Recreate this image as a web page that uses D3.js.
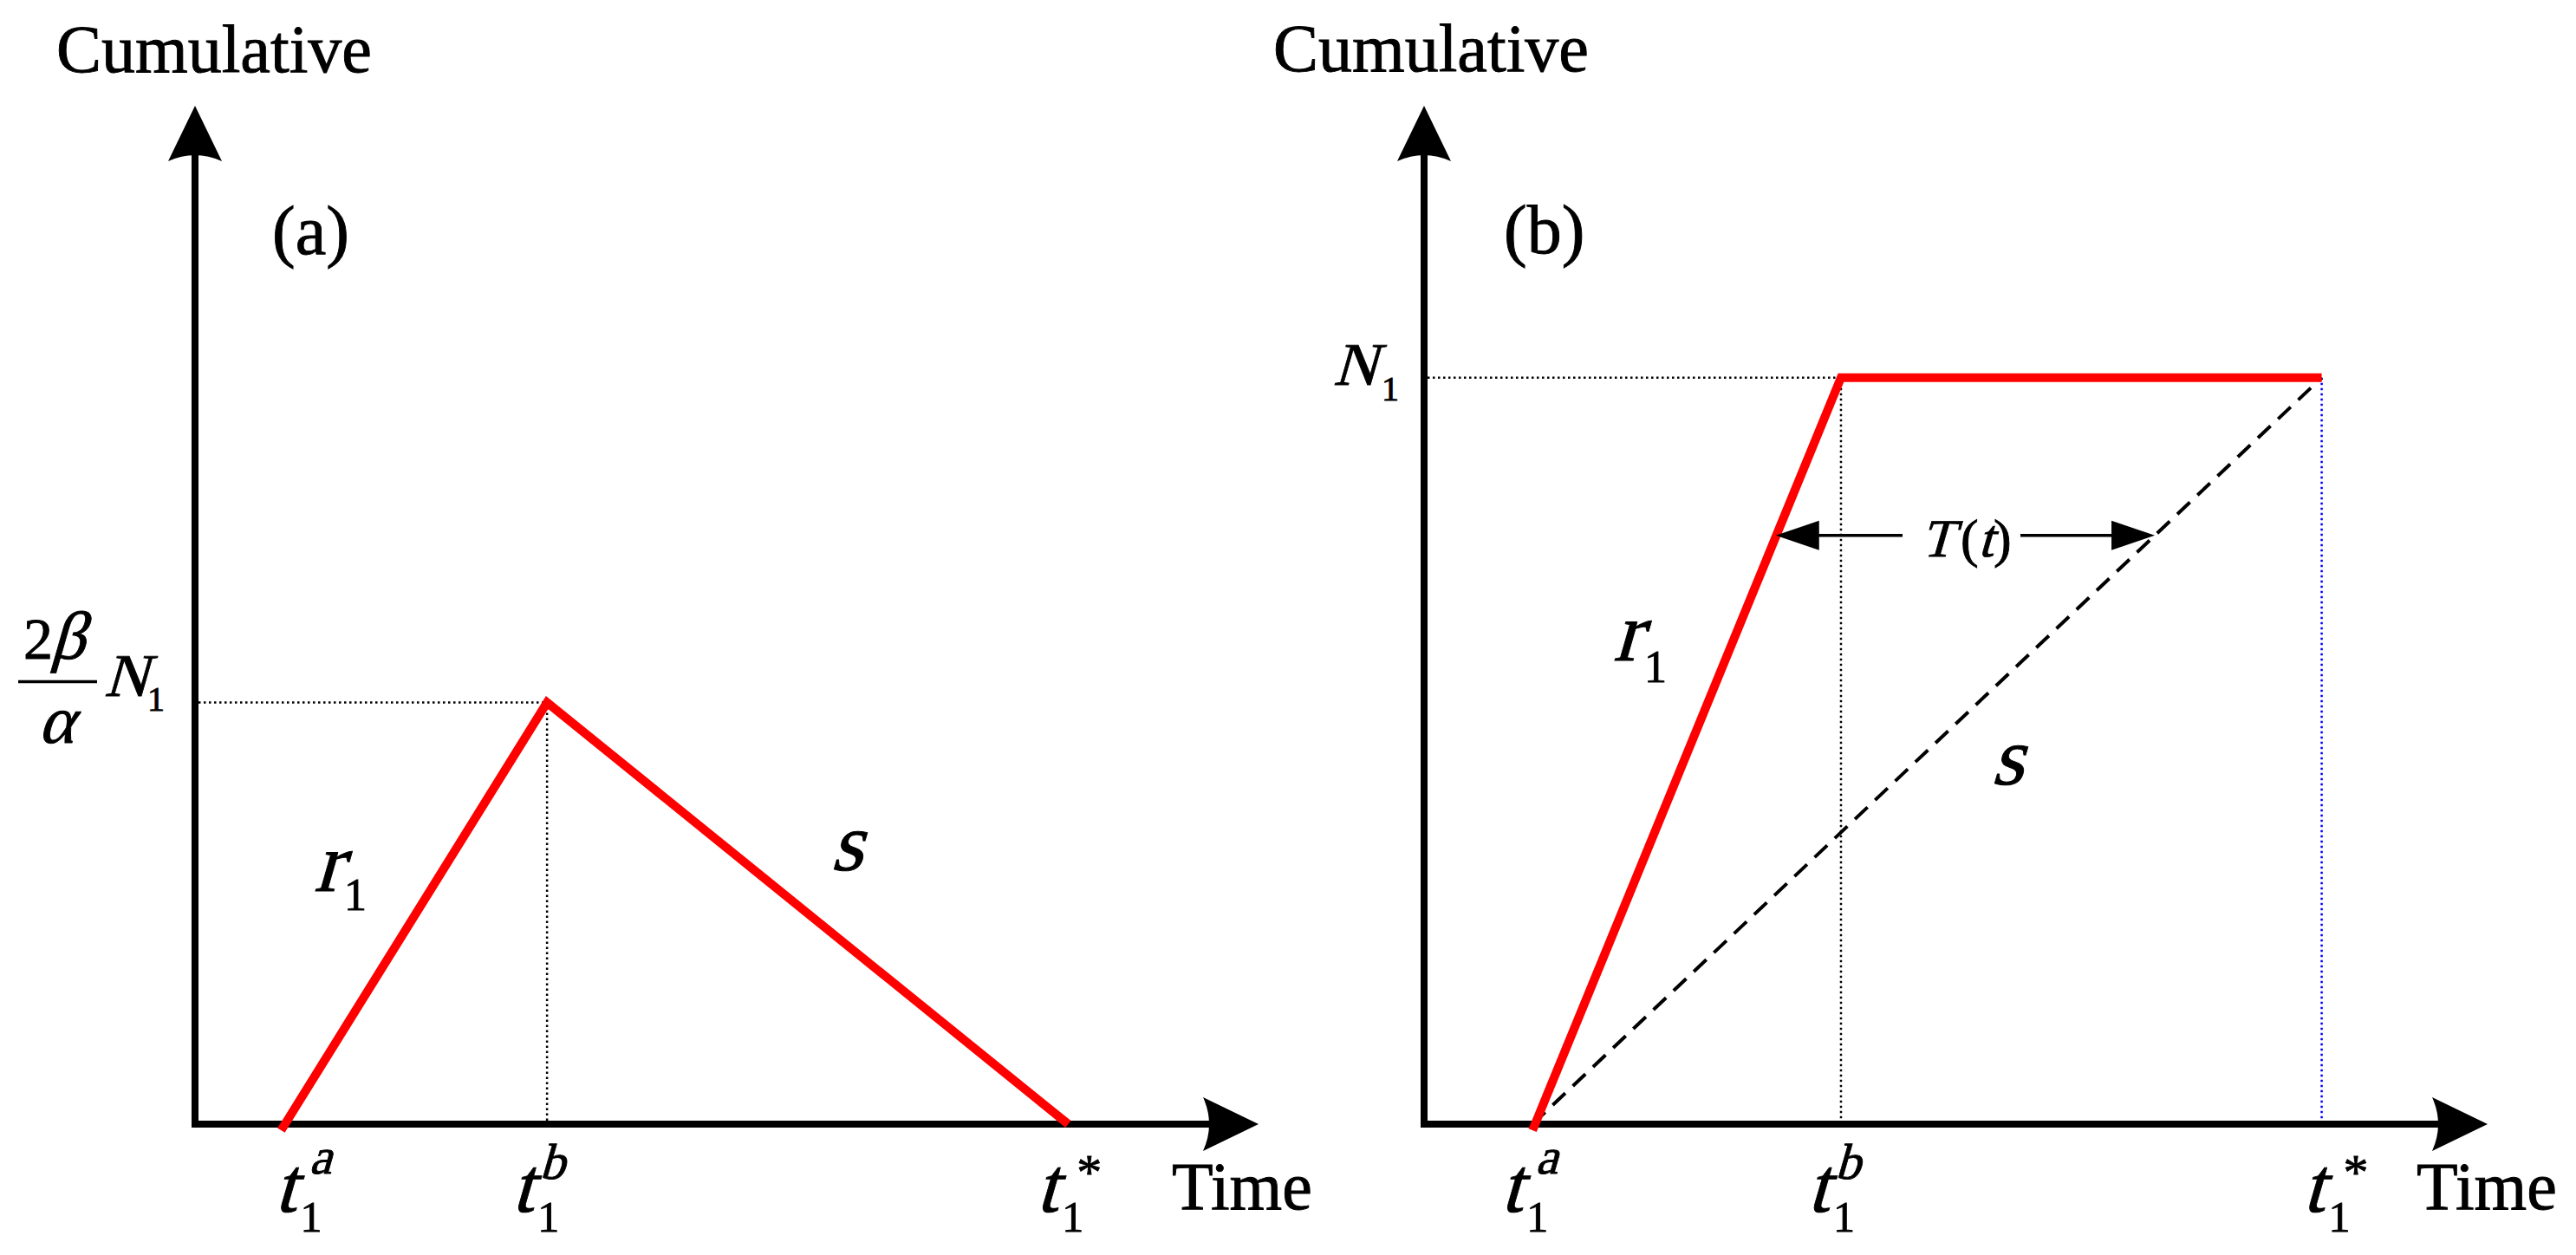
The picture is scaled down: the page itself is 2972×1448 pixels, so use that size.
<!DOCTYPE html>
<html>
<head>
<meta charset="utf-8">
<script src="https://cdn.jsdelivr.net/npm/d3@7"></script>
<style>
  body { margin: 0; background: #ffffff; }
  text { font-family: "Liberation Serif", "Times New Roman", serif; fill: #000; stroke: #000; stroke-width: 0.9; }
</style>
</head>
<body>
<div id="chart"></div>
<script>
// time / cumulative values, in abstract units (0..100 on each axis)
var tickSup = ["a", "b", "*"];
var panelNames = ["(a)", "(b)"];

// panel (a): t1^a, t1^b, t1^*  and peak 2β/α·N1
var timesA = [8.1, 33.1, 82.1];
var peakA = 41.4;

// panel (b): t1^a, t1^b, t1^*  and N1
var timesB = [10.2, 39.2, 84.4];
var levelB = 73.3;
var delayLevelB = 57.8; // height where T(t) is measured

var redA = [[timesA[0], -0.6], [timesA[1], peakA], [timesA[2], 0]];
var redB = [[timesB[0], -0.6], [timesB[1], levelB], [timesB[2], levelB]];
var dashB = [[timesB[0], 0], [timesB[2], levelB]];

var width = 2972, height = 1448;

var svg = d3.select("#chart").append("svg")
  .attr("width", width)
  .attr("height", height);

function makeScales(left) {
  return {
    x: d3.scaleLinear().domain([0, 100]).range([left, left + 1227]),
    y: d3.scaleLinear().domain([0, 100]).range([1297, 122])
  };
}

var sa = makeScales(225);
var sb = makeScales(1643);

// italic face is not available, so slant the upright serif instead
function addText(g, str, x, y, size, italic) {
  if (italic) {
    return g.append("text")
      .attr("transform", "translate(" + x + "," + y + ") skewX(-16)")
      .attr("font-size", size)
      .text(str);
  }
  return g.append("text")
    .attr("x", x)
    .attr("y", y)
    .attr("font-size", size)
    .text(str);
}

function drawAxes(g, s) {
  var ox = s.x(0), oy = s.y(0), ty = s.y(100), tx = s.x(100);

  g.append("line")
    .attr("x1", ox).attr("x2", ox)
    .attr("y1", oy + 4).attr("y2", ty + 56)
    .attr("stroke", "#000").attr("stroke-width", 8);

  g.append("line")
    .attr("x1", ox - 4).attr("x2", tx - 56)
    .attr("y1", oy).attr("y2", oy)
    .attr("stroke", "#000").attr("stroke-width", 8);

  g.append("path")
    .attr("d", "M" + ox + "," + ty + " L" + (ox + 31) + "," + (ty + 64) +
      " Q" + ox + "," + (ty + 50) + " " + (ox - 31) + "," + (ty + 64) + " Z")
    .attr("fill", "#000");

  g.append("path")
    .attr("d", "M" + tx + "," + oy + " L" + (tx - 64) + "," + (oy - 31) +
      " Q" + (tx - 50) + "," + oy + " " + (tx - 64) + "," + (oy + 31) + " Z")
    .attr("fill", "#000");
}

function drawTicks(g, s, times, nudges) {
  var supDx = [40, 32, 47];
  var supY = [1354, 1360, 1372];
  times.forEach(function(t, i) {
    var x = s.x(t) + nudges[i];
    addText(g, "t", x, 1398, 90, true);
    addText(g, "1", x + 30, 1421, 50, false);
    addText(g, tickSup[i], x + supDx[i], supY[i], 58, tickSup[i] != "*");
  });
}

function guide(g, x1, y1, x2, y2, color) {
  g.append("line")
    .attr("x1", x1).attr("y1", y1).attr("x2", x2).attr("y2", y2)
    .attr("stroke", color)
    .attr("stroke-width", 2.5)
    .attr("stroke-dasharray", "2.5,3.5");
}

var line = function(s) {
  return d3.line().x(function(d) { return s.x(d[0]); }).y(function(d) { return s.y(d[1]); });
};

// ---------- panel (a) ----------
var ga = svg.append("g").attr("class", "panel-a");

guide(ga, sa.x(0) + 4, sa.y(peakA), sa.x(timesA[1]), sa.y(peakA), "#000");
guide(ga, sa.x(timesA[1]), sa.y(peakA), sa.x(timesA[1]), sa.y(0), "#000");

drawAxes(ga, sa);

ga.append("path")
  .attr("d", line(sa)(redA))
  .attr("fill", "none")
  .attr("stroke", "#ff0000")
  .attr("stroke-width", 10)
  .attr("stroke-linejoin", "miter");

addText(ga, "Cumulative", 65, 83, 78, false);
addText(ga, panelNames[0], 314, 293, 80, false);

// 2β/α N1 label
addText(ga, "2", 27, 760, 68, false);
addText(ga, "β", 58, 760, 78, true);
ga.append("line")
  .attr("x1", 21).attr("x2", 112)
  .attr("y1", sa.y(peakA) - 24).attr("y2", sa.y(peakA) - 24)
  .attr("stroke", "#000").attr("stroke-width", 3.5);
addText(ga, "α", 44, 857, 78, true);
addText(ga, "N", 120, sa.y(peakA) - 8, 70, true);
addText(ga, "1", 170, sa.y(peakA) + 9, 40, false);

addText(ga, "r", 362, 1028, 97, true);
addText(ga, "1", 397, 1050, 52, false);
addText(ga, "s", 958, 1004, 95, true);

drawTicks(ga, sa, timesA, [-8, -41, -37]);
addText(ga, "Time", sa.x(100) - 100, 1395, 78, false);

// ---------- panel (b) ----------
var gb = svg.append("g").attr("class", "panel-b");

guide(gb, sb.x(0) + 4, sb.y(levelB), sb.x(timesB[1]), sb.y(levelB), "#000");
guide(gb, sb.x(timesB[1]), sb.y(levelB), sb.x(timesB[1]), sb.y(0), "#000");
guide(gb, sb.x(timesB[2]), sb.y(levelB), sb.x(timesB[2]), sb.y(0), "#0000ff");

drawAxes(gb, sb);

gb.append("path")
  .attr("d", line(sb)(dashB))
  .attr("fill", "none")
  .attr("stroke", "#000")
  .attr("stroke-width", 4)
  .attr("stroke-dasharray", "20,12");

gb.append("path")
  .attr("d", line(sb)(redB))
  .attr("fill", "none")
  .attr("stroke", "#ff0000")
  .attr("stroke-width", 10)
  .attr("stroke-linejoin", "miter");

// T(t) double arrow between r1 and s at delayLevelB
var frac = delayLevelB / levelB;
var leftTip = sb.x(timesB[0] + (timesB[1] - timesB[0]) * frac);
var rightTip = sb.x(timesB[0] + (timesB[2] - timesB[0]) * frac);
var ay = sb.y(delayLevelB);
var textLeft = 2216, textRight = 2320;

gb.append("line")
  .attr("x1", leftTip + 40).attr("x2", textLeft - 21)
  .attr("y1", ay).attr("y2", ay)
  .attr("stroke", "#000").attr("stroke-width", 3.5);
gb.append("line")
  .attr("x1", textRight + 11).attr("x2", rightTip - 40)
  .attr("y1", ay).attr("y2", ay)
  .attr("stroke", "#000").attr("stroke-width", 3.5);
gb.append("path")
  .attr("d", "M" + leftTip + "," + ay + " L" + (leftTip + 50) + "," + (ay - 17) +
    " L" + (leftTip + 50) + "," + (ay + 17) + " Z")
  .attr("fill", "#000");
gb.append("path")
  .attr("d", "M" + rightTip + "," + ay + " L" + (rightTip - 50) + "," + (ay - 17) +
    " L" + (rightTip - 50) + "," + (ay + 17) + " Z")
  .attr("fill", "#000");

addText(gb, "T", textLeft, ay + 24, 62, true);
addText(gb, "(", textLeft + 46, ay + 24, 62, false);
addText(gb, "t", textLeft + 66, ay + 24, 62, true);
addText(gb, ")", textLeft + 84, ay + 24, 62, false);

addText(gb, "Cumulative", 1469, 82, 78, false);
addText(gb, panelNames[1], 1735, 292, 80, false);

addText(gb, "N", 1538, sb.y(levelB) + 8, 70, true);
addText(gb, "1", 1594, sb.y(levelB) + 26, 40, false);

addText(gb, "r", 1861, 762, 97, true);
addText(gb, "1", 1897, 787, 52, false);
addText(gb, "s", 2297, 905, 95, true);

drawTicks(gb, sb, timesB, [-37, -39, -22]);
addText(gb, "Time", sb.x(100) - 82, 1395, 78, false);
</script>
</body>
</html>
